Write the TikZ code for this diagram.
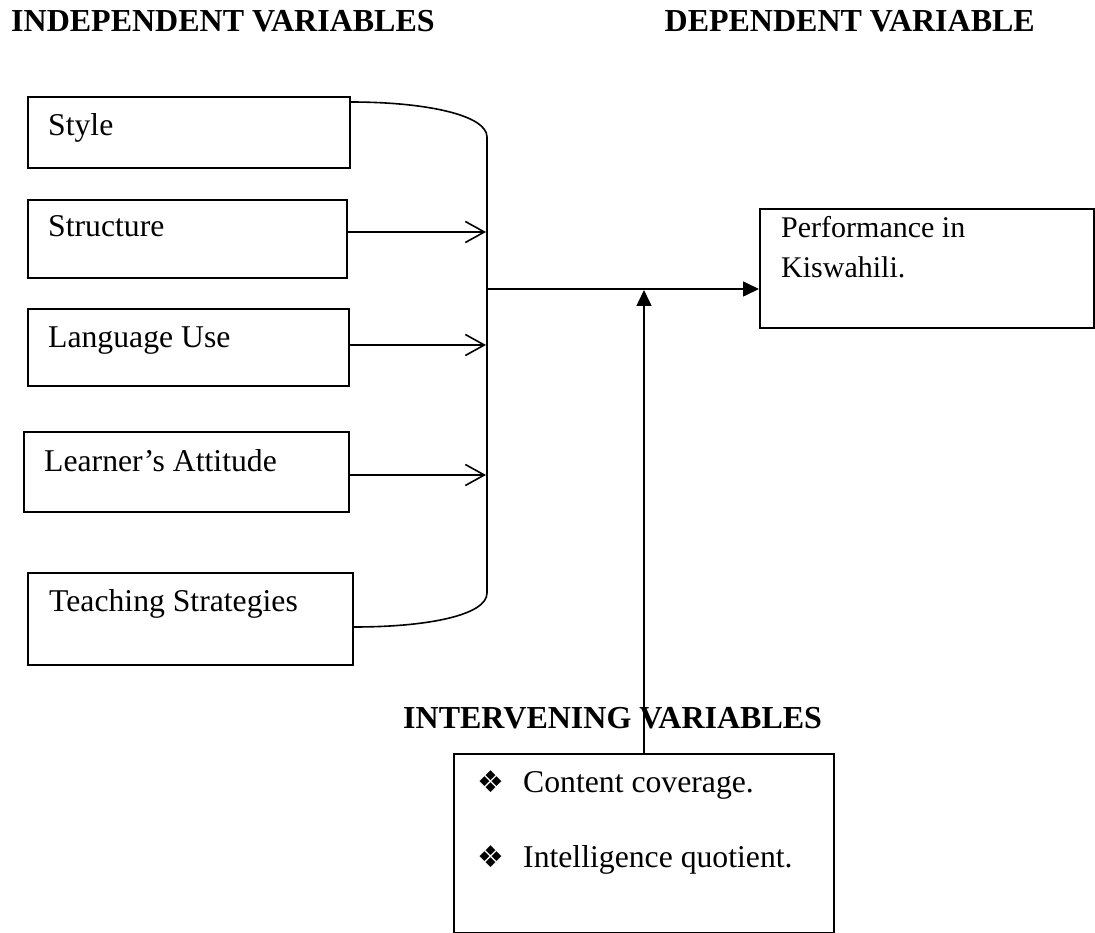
\documentclass[tikz,border=0pt]{standalone}
\usepackage{fontspec}
\setmainfont{Liberation Serif}
\newfontfamily\symfont{DejaVu Sans}
\usetikzlibrary{arrows.meta}
\begin{document}
\begin{tikzpicture}[x=1pt,y=-1pt,
  box/.style={draw, line width=1.6pt, rectangle, inner sep=0pt, anchor=north west},
  lbl/.style={inner sep=0pt, anchor=base west, font=\fontsize{31.7}{38}\selectfont},
  ttl/.style={inner sep=0pt, anchor=base west, font=\bfseries\fontsize{32}{38}\selectfont},
  conn/.style={line width=1.6pt},
  openarrow/.style={conn, -{Straight Barb[length=19pt,width=21pt]}},
  filledarrow/.style={conn, -{Triangle[length=16pt,width=15pt]}},
  bul/.style={font=\symfont\fontsize{30}{34}\selectfont}
]
\useasboundingbox (0,0) rectangle (1095,933);

% titles
\node[ttl] (tind) at (11,32) {INDEPENDENT VARIABLES};
\node[ttl, anchor=base east] (tdep) at (1035,32) {DEPENDENT VARIABLE};

% left boxes
\node[box, minimum width=322pt, minimum height=71pt] (style) at (27,96) {};
\node[box, minimum width=319pt, minimum height=78pt] (struct) at (27,199) {};
\node[box, minimum width=321pt, minimum height=77pt] (lang) at (27,308) {};
\node[box, minimum width=325pt, minimum height=80pt] (learn) at (23,431) {};
\node[box, minimum width=325pt, minimum height=92pt] (teach) at (27,572) {};

\node[lbl] (lstyle) at (48,136) {Style};
\node[lbl] (lstruct) at (48,237) {Structure};
\node[lbl] (llang) at (48,348) {Language Use};
\node[lbl] (llearn) at (44,471) {Learner’s Attitude};
\node[lbl] (lteach) at (49,611) {Teaching Strategies};

% dependent box
\node[box, minimum width=334pt, minimum height=119pt] (perf) at (759,208) {};
\node[inner sep=0pt, anchor=north west, align=left, font=\fontsize{30}{40}\selectfont] (lperf) at (781,216) {Performance in\\Kiswahili.};

% intervening
\node[ttl] (tint) at (403,728) {INTERVENING VARIABLES};
\node[box, minimum width=380pt, minimum height=179pt] (interv) at (453,753) {};
\node[lbl] (i1) at (477,792) {\makebox[46pt][l]{\symfont\fontsize{30}{34}\selectfont ❖}Content coverage.};
\node[lbl] (i2) at (477,867) {\makebox[46pt][l]{\symfont\fontsize{30}{34}\selectfont ❖}Intelligence quotient.};

% bracket
\coordinate (top) at (487,137);
\coordinate (bot) at (487,593);
\coordinate (mid) at (487,289);
\draw[conn] ([yshift=-6pt]style.north east) .. controls +(75,0) and +(0,-22) .. (top) -- (bot)
  .. controls +(0,22) and +(75,0) .. ([yshift=-55pt]teach.north east);

% arrows into bracket
\coordinate (j1) at (486,232);
\coordinate (j2) at (486,345);
\coordinate (j3) at (486,475);
\draw[openarrow] (struct.east |- j1) -- (j1);
\draw[openarrow] (lang.east |- j2) -- (j2);
\draw[openarrow] (learn.east |- j3) -- (j3);

% to dependent
\draw[filledarrow] (mid) -- (perf.west |- mid);

% intervening arrow
\coordinate (vx) at (644,290);
\draw[filledarrow] (interv.north -| vx) -- (vx);
\end{tikzpicture}
\end{document}
